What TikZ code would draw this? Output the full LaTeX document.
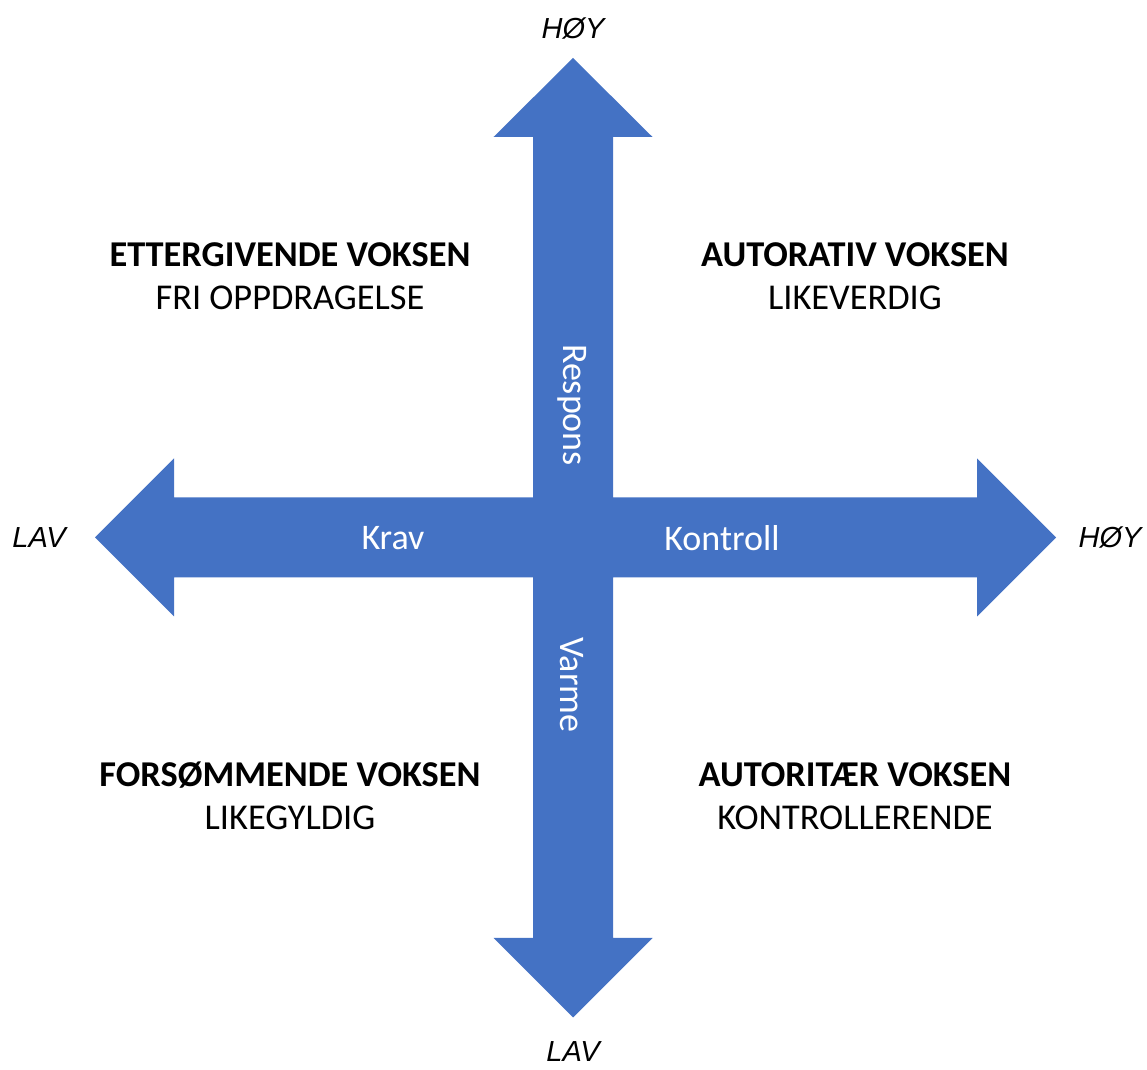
\documentclass[tikz,border=0pt]{standalone}
\usepackage{fontspec}
\setmainfont{Carlito}
\newfontfamily\axisfont{Liberation Sans}
\usetikzlibrary{positioning}
\definecolor{crossblue}{HTML}{4472C4}
\tikzset{
  quadrant/.style={align=center, font=\fontsize{20.7}{24.5}\selectfont},
  axislabel/.style={font=\axisfont\itshape\fontsize{16.5}{20}\selectfont},
  arrowlabel/.style={text=white, font=\fontsize{20.5}{24}\selectfont},
}
\begin{document}
\begin{tikzpicture}[x=0.02cm, y=-0.02cm]
  \useasboundingbox (0,0) rectangle (1147,1070);
  % the two double arrows as one shape
  \fill[crossblue] (573,58) -- (652.5,137) -- (613,137) -- (613,497.5)
    -- (977,497.5) -- (977,458.5) -- (1056,537.5) -- (977,616.5) -- (977,577.5)
    -- (613,577.5) -- (613,938) -- (652.5,938) -- (573,1017.5) -- (493.5,938)
    -- (533,938) -- (533,577.5) -- (174,577.5) -- (174,616.5) -- (95,537.5)
    -- (174,458.5) -- (174,497.5) -- (533,497.5) -- (533,137) -- (493.5,137) -- cycle;

  \node[arrowlabel, rotate=-90] (respons) at (572,405) {Respons};
  \node[arrowlabel, rotate=-90] (varme) at (572,685) {Varme};
  \node[arrowlabel] (krav) at (393,538) {Krav};
  \node[arrowlabel] (kontroll) at (722,538) {Kontroll};

  \node[axislabel] (topHigh) at (573,29) {HØY};
  \node[axislabel] (bottomLow) at (573,1052) {LAV};
  \node[axislabel] (leftLow) at (39,538) {LAV};
  \node[axislabel] (rightHigh) at (1110,538) {HØY};

  \node[quadrant] (permissive) at (290,276) {\textbf{ETTERGIVENDE VOKSEN}\\FRI OPPDRAGELSE};
  \node[quadrant] (authoritative) at (855,276) {\textbf{AUTORATIV VOKSEN}\\LIKEVERDIG};
  \node[quadrant] (neglectful) at (290,796) {\textbf{FORSØMMENDE VOKSEN}\\LIKEGYLDIG};
  \node[quadrant] (authoritarian) at (855,796) {\textbf{AUTORITÆR VOKSEN}\\KONTROLLERENDE};
\end{tikzpicture}
\end{document}
